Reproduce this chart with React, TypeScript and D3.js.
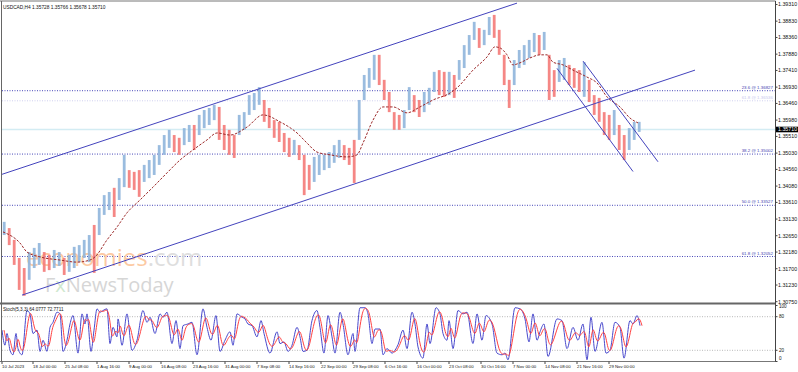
import React from 'react';
import * as d3 from 'd3';

// USDCAD H4 — every group holds 5 H4 bars (high / low)
const GROUP = 5;
const groupHigh = [
  1.3305, 1.3287, 1.3253, 1.3201, 1.3172, 1.3218, 1.3230, 1.3244, 1.3218, 1.3210,
  1.3224, 1.3218, 1.3201, 1.3210, 1.3233, 1.3238, 1.3253, 1.3267, 1.3296, 1.3345,
  1.3382, 1.3391, 1.3403, 1.3431, 1.3498, 1.3454, 1.3449, 1.3454, 1.3469, 1.3483,
  1.3498, 1.3526, 1.3555, 1.3570, 1.3555, 1.3547, 1.3575, 1.3584, 1.3584, 1.3613,
  1.3627, 1.3633, 1.3642, 1.3636, 1.3584, 1.3570, 1.3555, 1.3613, 1.3621, 1.3670,
  1.3676, 1.3693, 1.3656, 1.3633, 1.3598, 1.3593, 1.3561, 1.3547, 1.3541, 1.3526,
  1.3498, 1.3469, 1.3492, 1.3498, 1.3498, 1.3506, 1.3526, 1.3541, 1.3526, 1.3518,
  1.3541, 1.3656, 1.3728, 1.3748, 1.3786, 1.3786, 1.3714, 1.3679, 1.3621, 1.3613,
  1.3627, 1.3693, 1.3670, 1.3656, 1.3679, 1.3691, 1.3737, 1.3742, 1.3737, 1.3737,
  1.3728, 1.3771, 1.3814, 1.3843, 1.3881, 1.3863, 1.3858, 1.3895, 1.3901, 1.3858,
  1.3786, 1.3714, 1.3771, 1.3800, 1.3814, 1.3829, 1.3849, 1.3843, 1.3852, 1.3786,
  1.3742, 1.3771, 1.3777, 1.3757, 1.3748, 1.3742, 1.3765, 1.3714, 1.3670, 1.3662,
  1.3621, 1.3613, 1.3627, 1.3584, 1.3555, 1.3575, 1.3593, 1.3593,
];
const groupLow = [
  1.3267, 1.3238, 1.3181, 1.3109, 1.3092, 1.3138, 1.3172, 1.3181, 1.3161, 1.3166,
  1.3172, 1.3178, 1.3152, 1.3161, 1.3172, 1.3189, 1.3201, 1.3189, 1.3158, 1.3267,
  1.3325, 1.3339, 1.3319, 1.3368, 1.3405, 1.3403, 1.3397, 1.3377, 1.3420, 1.3431,
  1.3440, 1.3469, 1.3498, 1.3518, 1.3506, 1.3498, 1.3526, 1.3535, 1.3512, 1.3555,
  1.3575, 1.3584, 1.3598, 1.3541, 1.3512, 1.3498, 1.3489, 1.3555, 1.3570, 1.3613,
  1.3627, 1.3642, 1.3593, 1.3575, 1.3547, 1.3535, 1.3506, 1.3492, 1.3498, 1.3483,
  1.3382, 1.3397, 1.3420, 1.3440, 1.3454, 1.3460, 1.3475, 1.3489, 1.3483, 1.3469,
  1.3417, 1.3541, 1.3656, 1.3691, 1.3714, 1.3699, 1.3656, 1.3621, 1.3570, 1.3570,
  1.3575, 1.3627, 1.3621, 1.3607, 1.3621, 1.3642, 1.3679, 1.3670, 1.3665, 1.3670,
  1.3662, 1.3714, 1.3748, 1.3786, 1.3829, 1.3806, 1.3814, 1.3843, 1.3835, 1.3786,
  1.3699, 1.3633, 1.3699, 1.3748, 1.3757, 1.3777, 1.3794, 1.3786, 1.3800, 1.3656,
  1.3665, 1.3708, 1.3714, 1.3699, 1.3691, 1.3679, 1.3665, 1.3650, 1.3613, 1.3593,
  1.3555, 1.3541, 1.3555, 1.3512, 1.3483, 1.3512, 1.3541, 1.3564,
];
const lastClose = 1.3571;

// 50-period moving average (bar index, price)
const maBars = [1, 18, 25, 38, 58, 75, 88, 93, 105, 115, 125, 138, 151, 165, 178, 191, 205, 215, 228, 245,
  261, 278, 295, 305, 315, 328, 345, 355, 361, 371, 381, 391, 405, 418, 431, 448, 455, 471, 485, 493,
  498, 505, 511, 518, 528, 538, 545, 551, 561, 571, 585, 595, 605, 618, 628, 636];
const maValues = [1.3276, 1.3244, 1.3218, 1.3204, 1.3195, 1.3189, 1.3195, 1.3204, 1.3253, 1.3290,
  1.3331, 1.3368, 1.3405, 1.3446, 1.3483, 1.3512, 1.3541, 1.3561, 1.3555, 1.3578,
  1.3613, 1.3593, 1.3561, 1.3532, 1.3506, 1.3498, 1.3492, 1.3498, 1.3532, 1.3598,
  1.3636, 1.3636, 1.3619, 1.3636, 1.3656, 1.3676, 1.3691, 1.3742, 1.3780, 1.3809,
  1.3806, 1.3786, 1.3757, 1.3763, 1.3777, 1.3786, 1.3786, 1.3765, 1.3757, 1.3742,
  1.3722, 1.3705, 1.3665, 1.3636, 1.3604, 1.3590];

// Stochastic(5,3,3) main line turning points (bar index, value)
const stochBars = [0, 3, 5, 8, 11, 14, 16, 20, 25, 28, 31, 35, 38, 41, 45, 48, 51, 55, 58, 61,
  65, 68, 71, 76, 80, 83, 85, 89, 92, 95, 98, 101, 105, 108, 111, 115, 116, 120, 125, 130,
  135, 141, 145, 148, 153, 158, 161, 165, 170, 174, 178, 181, 186, 190, 195, 201, 205, 209, 214, 218,
  223, 228, 231, 235, 240, 243, 246, 250, 255, 259, 262, 268, 275, 278, 282, 286, 290, 295, 298, 301,
  305, 310, 315, 318, 322, 326, 330, 333, 338, 341, 346, 351, 353, 358, 363, 366, 370, 373, 378, 381,
  385, 390, 393, 396, 401, 405, 410, 413, 416, 421, 425, 428, 434, 438, 441, 445, 447, 451, 456, 461,
  465, 471, 475, 480, 484, 490, 495, 500, 503, 506, 513, 518, 523, 527, 531, 535, 538, 542, 546, 555,
  560, 565, 571, 576, 581, 585, 589, 593, 600, 604, 608, 613, 618, 622, 628, 631, 635, 638];
const stochMain = [56, 29, 50, 20, 12, 50, 23, 12, 91, 85, 50, 56, 18, 38, 18, 61, 70, 88, 85, 18,
  38, 67, 82, 15, 85, 67, 85, 18, 56, 94, 88, 91, 94, 32, 61, 44, 76, 29, 85, 20,
  38, 91, 70, 79, 50, 85, 79, 88, 32, 73, 23, 64, 67, 70, 12, 94, 61, 38, 82, 18,
  38, 53, 29, 85, 79, 76, 67, 64, 44, 73, 50, 15, 53, 32, 35, 18, 29, 61, 44, 18,
  20, 73, 91, 61, 15, 82, 44, 15, 88, 67, 12, 50, 18, 96, 96, 85, 32, 58, 58, 12,
  23, 15, 20, 30, 56, 23, 88, 67, 26, 6, 67, 32, 96, 85, 50, 38, 73, 23, 91, 85,
  88, 32, 85, 38, 82, 67, 15, 12, 15, 3, 96, 94, 76, 35, 85, 38, 53, 67, 9, 76,
  73, 23, 61, 38, 67, 3, 79, 18, 70, 15, 20, 70, 61, 6, 73, 67, 82, 64];

const priceTicks = [1.3931, 1.3883, 1.3836, 1.3788, 1.3741, 1.3693, 1.3646, 1.3598, 1.3551, 1.3503,
  1.3456, 1.3408, 1.3361, 1.3313, 1.3265, 1.3218, 1.3170, 1.3123, 1.3075];

const timeLabels = ['10 Jul 2023', '18 Jul 00:00', '25 Jul 08:00', '1 Aug 16:00', '9 Aug 00:00',
  '16 Aug 08:00', '23 Aug 16:00', '31 Aug 00:00', '7 Sep 08:00', '14 Sep 16:00', '22 Sep 00:00',
  '29 Sep 08:00', '6 Oct 16:00', '16 Oct 00:00', '23 Oct 08:00', '30 Oct 16:00', '7 Nov 00:00',
  '14 Nov 08:00', '21 Nov 16:00', '29 Nov 00:00'];
const timeLabelBars = [0, 31, 63, 95, 127, 159, 191, 223, 255, 287, 319, 351, 383, 415, 447, 479,
  511, 543, 575, 607];

const fibNames = ['23.6', '38.2', '50.0', '61.8'];
const fibPrices = [1.36827, 1.35002, 1.33527, 1.32052];
const fibFaintName = '61.8';
const fibFaintPrice = 1.36536;

// trend lines: [bar1, price1, bar2, price2]
const channelLines = [
  [-2, 1.3440, 515, 1.3935],
  [20, 1.3094, 693, 1.3742],
];
const fallingLines = [
  [581, 1.3768, 656, 1.3478],
  [555, 1.3747, 631, 1.3450],
];

const FONT = '"Liberation Sans", Arial, sans-serif';
const BLUE_BAR = '#8fb5dc';
const RED_BAR = '#f47a78';
const LINE = '#4343bd';

export default function App() {
  const x = d3.scaleLinear().domain([0, 772]).range([2, 774]);
  const y = d3.scaleLinear().domain([1.3075, 1.3931]).range([301.7, 4.5]);
  const ys = d3.scaleLinear().domain([0, 100]).range([361.5, 305.5]);
  const right = 775.5;

  const fmt = d3.format('.5f');

  const mids = groupHigh.map((h, i) => (h + groupLow[i]) / 2);
  const groupW = x(GROUP) - x(0);

  const maLine = d3.line<number>()
    .x((_, i) => x(maBars[i]))
    .y(d => y(d))
    .curve(d3.curveMonotoneX)(maValues);

  const stochLine = d3.line<number>()
    .x((_, i) => x(stochBars[i]))
    .y(d => ys(d))
    .curve(d3.curveMonotoneX);
  const mainPath = stochLine(stochMain);
  // signal line lags the main line
  const signalPath = d3.line<number>()
    .x((_, i) => x(stochBars[i] + 2))
    .y(d => ys(d))
    .curve(d3.curveBasis)(stochMain);

  return (
    <div style={{ position: 'fixed', left: 0, top: 0 }}>
      <svg width={798} height={372} style={{ display: 'block', background: '#fff', fontFamily: FONT }}>
        <defs>
          <clipPath id="main-clip">
            <rect x={2} y={2} width={right - 2} height={301} />
          </clipPath>
          <clipPath id="stoch-clip">
            <rect x={2} y={305} width={right - 2} height={56.5} />
          </clipPath>
        </defs>

        {/* current price line */}
        <line x1={2} x2={right} y1={y(lastClose)} y2={y(lastClose)} stroke="#d3ecf3" strokeWidth={1.6} />

        {/* fibonacci levels */}
        <line x1={2} x2={right} y1={y(fibFaintPrice)} y2={y(fibFaintPrice)} stroke="#cfcfee" strokeDasharray="1,1.5" />
        {fibPrices.map((p, i) => (
          <line key={i} x1={2} x2={right} y1={y(p)} y2={y(p)} stroke="#4747b8" strokeDasharray="1,1.5" />
        ))}

        {/* watermark */}
        <text x={26} y={266} fontSize={24} fontFamily='"Open Sans", Arial, sans-serif' fill="#fcc9a2">
          economies<tspan fill="#dedede">.com</tspan>
        </text>
        <text x={45} y={291.5} fontSize={20} fontFamily='"Open Sans", Arial, sans-serif' fill="#d6d6d6">
          F<tspan fill="#cfe8cf">x</tspan>NewsToday
        </text>

        {/* price bars */}
        <g clipPath="url(#main-clip)">
          {groupHigh.map((h, i) => {
            const up = i === 0 ? true : mids[i] >= mids[i - 1];
            return (
              <rect key={i} x={x(i * GROUP) + 0.8} width={groupW - 2.2} y={y(h)}
                height={Math.max(1, y(groupLow[i]) - y(h))}
                fill={up ? BLUE_BAR : RED_BAR} opacity={0.9} />
            );
          })}
          <path d={maLine || ''} fill="none" stroke="#9c2a2a" strokeWidth={1} strokeDasharray="2.5,1.5" />
          {channelLines.concat(fallingLines).map((l, i) => (
            <line key={i} x1={x(l[0])} y1={y(l[1])} x2={x(l[2])} y2={y(l[3])} stroke={LINE} strokeWidth={1} />
          ))}
        </g>

        {/* fib labels */}
        <text x={773} y={y(fibFaintPrice) - 1.8} fontSize={4.4} textAnchor="end" fill="#c8c8ee">
          {`${fibFaintName} @ ${fmt(fibFaintPrice)}`}
        </text>
        {fibPrices.map((p, i) => (
          <text key={i} x={773} y={y(p) - 1.8} fontSize={4.4} textAnchor="end" fill="#3d3db0">
            {`${fibNames[i]} @ ${fmt(p)}`}
          </text>
        ))}

        {/* header */}
        <text x={3} y={8.5} fontSize={4.8} fill="#111">USDCAD,H4  1.35728 1.35766 1.35678 1.35710</text>

        {/* stochastic panel */}
        {[80, 20].map(v => (
          <line key={v} x1={2} x2={right} y1={ys(v)} y2={ys(v)} stroke="#b8b8b8" strokeDasharray="1,1.5" />
        ))}
        <g clipPath="url(#stoch-clip)">
          <path d={mainPath || ''} fill="none" stroke="#4848cc" strokeWidth={1} />
          <path d={signalPath || ''} fill="none" stroke="#ff4040" strokeWidth={1} />
        </g>
        <text x={3} y={311} fontSize={4.6} fill="#111">Stoch(5,3,3) 64.0777 72.7711</text>

        {/* frame */}
        <line x1={0} x2={right} y1={1} y2={1} stroke="#777" />
        <line x1={1.5} x2={1.5} y1={1} y2={361.5} stroke="#666" />
        <line x1={0} x2={right + 0.5} y1={303.5} y2={303.5} stroke="#666" strokeWidth={2} />
        <line x1={0} x2={right + 0.5} y1={361.5} y2={361.5} stroke="#777" />
        <line x1={right} x2={right} y1={1} y2={361.5} stroke="#444" />

        {/* price axis */}
        {priceTicks.map(p => (
          <g key={p}>
            <line x1={right} x2={right + 2} y1={y(p)} y2={y(p)} stroke="#444" />
            <text x={778} y={y(p)} dy="0.35em" fontSize={5.3} fill="#111">{fmt(p)}</text>
          </g>
        ))}
        <rect x={776} y={y(lastClose) - 2.8} width={22} height={5.6} fill="#000" />
        <text x={778} y={y(lastClose)} dy="0.35em" fontSize={5.3} fill="#fff">{fmt(lastClose)}</text>

        {/* stochastic axis */}
        {[100, 80, 20, 0].map(v => (
          <g key={v}>
            <line x1={right} x2={right + 2} y1={ys(v)} y2={ys(v)} stroke="#444" />
            <text x={779} y={Math.min(358.5, Math.max(306, ys(v)))} dy="0.35em" fontSize={4.6} fill="#111">{v}</text>
          </g>
        ))}

        {/* time axis */}
        {timeLabels.map((t, i) => (
          <g key={t}>
            <line x1={x(timeLabelBars[i])} x2={x(timeLabelBars[i])} y1={361.5} y2={364} stroke="#444" />
            <text x={x(timeLabelBars[i])} y={367.6} fontSize={4.3} fill="#111">{t}</text>
          </g>
        ))}
      </svg>
    </div>
  );
}
